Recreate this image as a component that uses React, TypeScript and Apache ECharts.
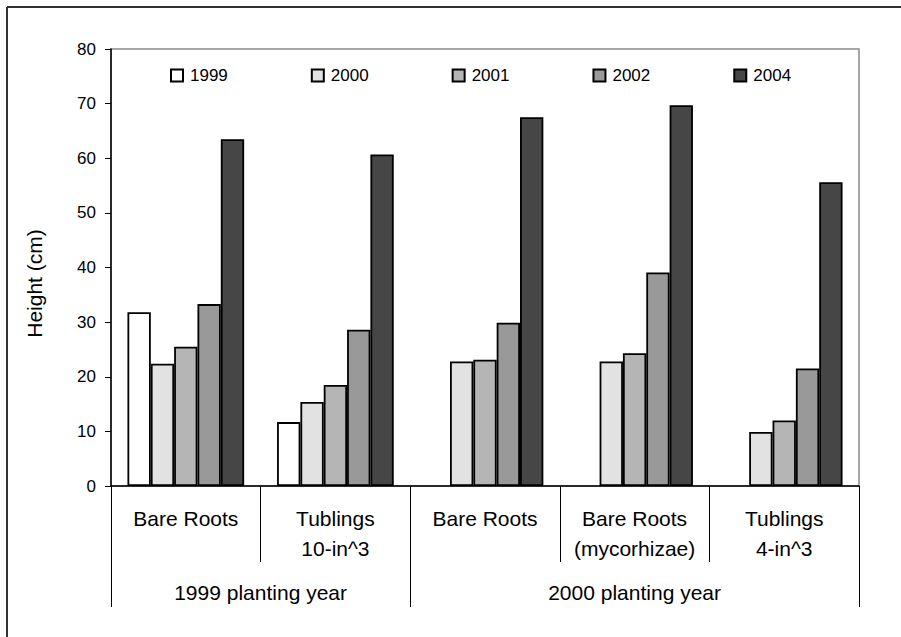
import React, { useEffect, useRef } from "react";
import * as echarts from "echarts";

const categories = [
  "Bare Roots",
  "Tublings\n10-in^3",
  "Bare Roots",
  "Bare Roots\n(mycorhizae)",
  "Tublings\n4-in^3",
];
const groupNames = ["1999 planting year", "2000 planting year"];
const groupSpans = [2, 3];
const seriesNames = ["1999", "2000", "2001", "2002", "2004"];
const v1999 = [31.8, 11.7, null, null, null];
const v2000 = [22.4, 15.4, 22.8, 22.8, 9.9];
const v2001 = [25.5, 18.5, 23.1, 24.3, 12.0];
const v2002 = [33.3, 28.6, 29.9, 39.1, 21.5];
const v2004 = [63.5, 60.7, 67.5, 69.7, 55.6];
const seriesValues = [v1999, v2000, v2001, v2002, v2004];
const colors = ["#ffffff", "#e2e2e2", "#b5b5b5", "#999999", "#464646"];
const yTicks = [0, 10, 20, 30, 40, 50, 60, 70, 80];

const FONT = "'Liberation Sans', Arial, sans-serif";

export default function App() {
  const ref = useRef<HTMLDivElement>(null);
  useEffect(() => {
    if (!ref.current) return;
    const chart = echarts.init(ref.current, null, { renderer: "svg" });
    const bounds: number[] = [0];
    groupSpans.forEach((s) => bounds.push(bounds[bounds.length - 1] + s));
    const centers = groupSpans.map((s, i) => bounds[i] + s / 2);

    chart.setOption({
      animation: false,
      backgroundColor: "#ffffff",
      textStyle: { fontFamily: FONT, color: "#000" },
      grid: {
        left: 111,
        top: 49,
        right: 42,
        bottom: 151,
        show: true,
        borderColor: "#8a8a8a",
        borderWidth: 1.5,
        backgroundColor: "transparent",
      },
      legend: {
        left: 165,
        top: 62,
        itemWidth: 12,
        itemHeight: 12,
        itemGap: 83,
        icon: "rect",
        data: seriesNames,
        textStyle: { fontSize: 17, fontFamily: FONT, color: "#000", padding: [0, 0, 0, 2] },
      },
      xAxis: [
        {
          type: "category",
          position: "bottom",
          data: categories,
          axisLine: { show: true, lineStyle: { color: "#000", width: 1.5 } },
          axisTick: { show: true, length: 76, interval: 0, lineStyle: { color: "#000", width: 1 } },
          axisLabel: {
            interval: 0,
            margin: 17,
            fontSize: 21,
            lineHeight: 30,
            color: "#000",
            fontFamily: FONT,
          },
        },
        {
          type: "value",
          position: "bottom",
          min: bounds[0],
          max: bounds[bounds.length - 1],
          offset: 0,
          axisLine: { show: false },
          splitLine: { show: false },
          axisTick: {
            show: true,
            length: 121,
            customValues: bounds,
            lineStyle: { color: "#000", width: 1 },
          },
          axisLabel: {
            show: true,
            customValues: centers,
            margin: 91,
            fontSize: 21,
            lineHeight: 30,
            color: "#000",
            fontFamily: FONT,
            formatter: (v: number) => {
              const i = centers.findIndex((c) => Math.abs(c - v) < 1e-6);
              return i >= 0 ? groupNames[i] : "";
            },
          },
        },
      ],
      yAxis: {
        type: "value",
        min: yTicks[0],
        max: yTicks[yTicks.length - 1],
        interval: 10,
        name: "Height (cm)",
        nameLocation: "middle",
        nameGap: 66,
        nameRotate: 90,
        nameTextStyle: { fontSize: 21, color: "#000", fontFamily: FONT, padding: [0, 32, 0, 0] },
        axisLine: { show: true, lineStyle: { color: "#000", width: 1.5 } },
        axisTick: { show: true, length: 6, inside: false, lineStyle: { color: "#000" } },
        splitLine: { show: false },
        axisLabel: { fontSize: 17, margin: 15, color: "#000", fontFamily: FONT },
      },
      series: seriesNames.map((name, i) => ({
        name,
        type: "bar",
        xAxisIndex: 0,
        data: seriesValues[i],
        barGap: "0%",
        barCategoryGap: "22%",
        itemStyle: { color: colors[i], borderColor: "#000", borderWidth: 1.8 },
      })),
      graphic: [
        {
          type: "line",
          shape: { x1: 7, y1: 7, x2: 901, y2: 7 },
          style: { stroke: "#333", lineWidth: 2 },
        },
        {
          type: "line",
          shape: { x1: 7, y1: 7, x2: 7, y2: 637 },
          style: { stroke: "#333", lineWidth: 2 },
        },
      ],
    });
    return () => chart.dispose();
  }, []);
  return (
    <div
      ref={ref}
      style={{ position: "fixed", left: 0, top: 0, width: 901, height: 637 }}
    />
  );
}
